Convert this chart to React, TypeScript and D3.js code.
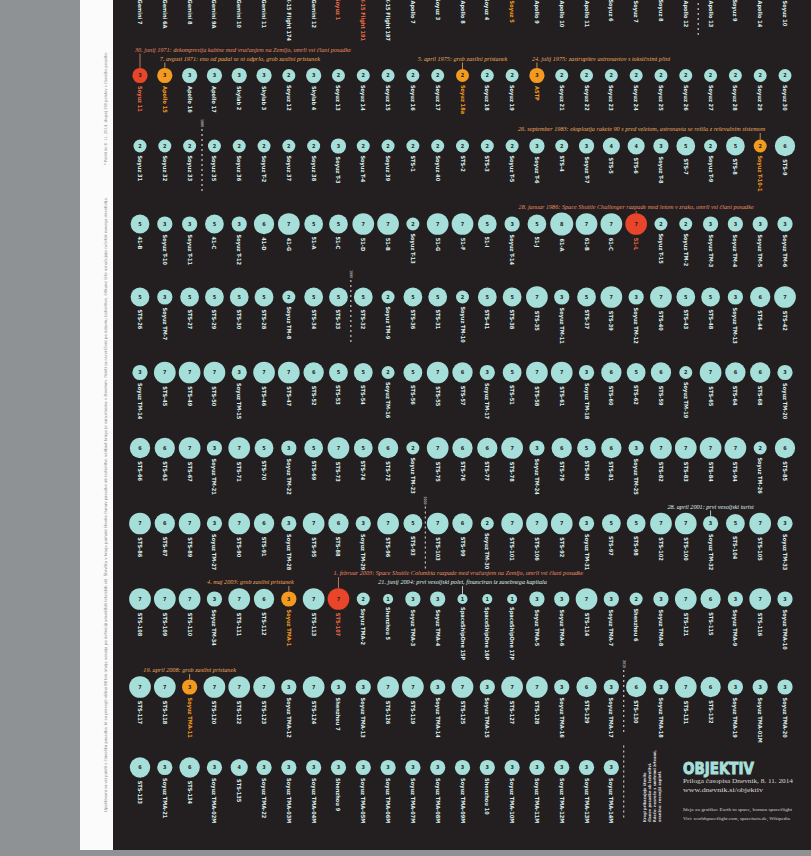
import React from "react";
import * as d3 from "d3";

const W = 811;
const H = 856;
const PER_ROW = 27;

// every crewed flight, in launch order (the top row is cut by the frame)
const flightNames = [
  "Gemini 7", "Gemini 6A", "Gemini 8", "Gemini 9A", "Gemini 10", "Gemini 11", "X-15 Flight 174", "Gemini 12", "Soyuz 1",
  "X-15 Flight 191", "X-15 Flight 197", "Apollo 7", "Soyuz 3", "Apollo 8", "Soyuz 4", "Soyuz 5", "Apollo 9", "Apollo 10",
  "Apollo 11", "Soyuz 6", "Soyuz 7", "Soyuz 8", "Apollo 12", "Apollo 13", "Soyuz 9", "Apollo 14", "Soyuz 10",

  "Soyuz 11", "Apollo 15", "Apollo 16", "Apollo 17", "Skylab 2", "Skylab 3", "Soyuz 12", "Skylab 4", "Soyuz 13",
  "Soyuz 14", "Soyuz 15", "Soyuz 16", "Soyuz 17", "Soyuz 18a", "Soyuz 18", "Soyuz 19", "ASTP", "Soyuz 21",
  "Soyuz 22", "Soyuz 23", "Soyuz 24", "Soyuz 25", "Soyuz 26", "Soyuz 27", "Soyuz 28", "Soyuz 29", "Soyuz 30",

  "Soyuz 31", "Soyuz 32", "Soyuz 33", "Soyuz 35", "Soyuz 36", "Soyuz T-2", "Soyuz 37", "Soyuz 38", "Soyuz T-3",
  "Soyuz T-4", "Soyuz 39", "STS-1", "Soyuz 40", "STS-2", "STS-3", "Soyuz T-5", "Soyuz T-6", "STS-4",
  "Soyuz T-7", "STS-5", "STS-6", "Soyuz T-8", "STS-7", "Soyuz T-9", "STS-8", "Soyuz T-10-1", "STS-9",

  "41-B", "Soyuz T-10", "Soyuz T-11", "41-C", "Soyuz T-12", "41-D", "41-G", "51-A", "51-C",
  "51-D", "51-B", "Soyuz T-13", "51-G", "51-F", "51-I", "Soyuz T-14", "51-J", "61-A",
  "61-B", "61-C", "51-L", "Soyuz T-15", "Soyuz TM-2", "Soyuz TM-3", "Soyuz TM-4", "Soyuz TM-5", "Soyuz TM-6",

  "STS-26", "Soyuz TM-7", "STS-27", "STS-29", "STS-30", "STS-28", "Soyuz TM-8", "STS-34", "STS-33",
  "STS-32", "Soyuz TM-9", "STS-36", "STS-31", "Soyuz TM-10", "STS-41", "STS-38", "STS-35", "Soyuz TM-11",
  "STS-37", "STS-39", "Soyuz TM-12", "STS-40", "STS-43", "STS-48", "Soyuz TM-13", "STS-44", "STS-42",

  "Soyuz TM-14", "STS-45", "STS-49", "STS-50", "Soyuz TM-15", "STS-46", "STS-47", "STS-52", "STS-53",
  "STS-54", "Soyuz TM-16", "STS-56", "STS-55", "STS-57", "Soyuz TM-17", "STS-51", "STS-58", "STS-61",
  "Soyuz TM-18", "STS-60", "STS-62", "STS-59", "Soyuz TM-19", "STS-65", "STS-64", "STS-68", "Soyuz TM-20",

  "STS-66", "STS-63", "STS-67", "Soyuz TM-21", "STS-71", "STS-70", "Soyuz TM-22", "STS-69", "STS-73",
  "STS-74", "STS-72", "Soyuz TM-23", "STS-75", "STS-76", "STS-77", "STS-78", "Soyuz TM-24", "STS-79",
  "STS-80", "STS-81", "Soyuz TM-25", "STS-82", "STS-83", "STS-84", "STS-94", "Soyuz TM-26", "STS-85",

  "STS-86", "STS-87", "STS-89", "Soyuz TM-27", "STS-90", "STS-91", "Soyuz TM-28", "STS-95", "STS-88",
  "Soyuz TM-29", "STS-96", "STS-93", "STS-103", "STS-99", "Soyuz TM-30", "STS-101", "STS-106", "STS-92",
  "Soyuz TM-31", "STS-97", "STS-98", "STS-102", "STS-100", "Soyuz TM-32", "STS-104", "STS-105", "Soyuz TM-33",

  "STS-108", "STS-109", "STS-110", "Soyuz TM-34", "STS-111", "STS-112", "Soyuz TMA-1", "STS-113", "STS-107",
  "Soyuz TMA-2", "Shenzhou 5", "Soyuz TMA-3", "Soyuz TMA-4", "SpaceShipOne 15P", "SpaceShipOne 16P", "SpaceShipOne 17P", "Soyuz TMA-5", "Soyuz TMA-6",
  "STS-114", "Soyuz TMA-7", "Shenzhou 6", "Soyuz TMA-8", "STS-121", "STS-115", "Soyuz TMA-9", "STS-116", "Soyuz TMA-10",

  "STS-117", "STS-118", "Soyuz TMA-11", "STS-120", "STS-122", "STS-123", "Soyuz TMA-12", "STS-124", "Shenzhou 7",
  "Soyuz TMA-13", "STS-126", "STS-119", "Soyuz TMA-14", "STS-125", "Soyuz TMA-15", "STS-127", "STS-128", "Soyuz TMA-16",
  "STS-129", "Soyuz TMA-17", "STS-130", "Soyuz TMA-18", "STS-131", "STS-132", "Soyuz TMA-19", "Soyuz TMA-01M", "Soyuz TMA-20",

  "STS-133", "Soyuz TMA-21", "STS-134", "Soyuz TMA-02M", "STS-135", "Soyuz TMA-22", "Soyuz TMA-03M", "Soyuz TMA-04M", "Shenzhou 9",
  "Soyuz TMA-05M", "Soyuz TMA-06M", "Soyuz TMA-07M", "Soyuz TMA-08M", "Soyuz TMA-09M", "Shenzhou 10", "Soyuz TMA-10M", "Soyuz TMA-11M", "Soyuz TMA-12M",
  "Soyuz TMA-13M", "Soyuz TMA-14M",
];

// crew at launch, same order
const crewSizes = [
  2, 2, 2, 2, 2, 2, 1, 2, 1, 1, 1, 3, 1, 3, 1, 3, 3, 3, 3, 2, 3, 2, 3, 3, 2, 3, 3,
  3, 3, 3, 3, 3, 3, 2, 3, 2, 2, 2, 2, 2, 2, 2, 2, 3, 2, 2, 2, 2, 2, 2, 2, 2, 2, 2,
  2, 2, 2, 2, 2, 2, 2, 2, 3, 2, 2, 2, 2, 2, 2, 2, 3, 2, 3, 4, 4, 3, 5, 2, 5, 2, 6,
  5, 3, 3, 5, 3, 6, 7, 5, 5, 7, 7, 2, 7, 7, 5, 3, 5, 8, 7, 7, 7, 2, 2, 3, 3, 3, 3,
  5, 3, 5, 5, 5, 5, 2, 5, 5, 5, 2, 5, 5, 2, 5, 5, 7, 3, 5, 7, 3, 7, 5, 5, 3, 6, 7,
  3, 7, 7, 7, 3, 7, 7, 6, 5, 5, 2, 5, 7, 6, 3, 5, 7, 7, 3, 6, 5, 6, 2, 7, 6, 6, 3,
  6, 6, 7, 3, 7, 5, 3, 5, 7, 5, 6, 2, 7, 6, 6, 7, 3, 6, 5, 6, 3, 7, 7, 7, 7, 2, 6,
  7, 6, 7, 3, 7, 6, 3, 7, 6, 3, 7, 5, 7, 6, 2, 7, 7, 7, 3, 5, 5, 7, 7, 3, 5, 7, 3,
  7, 7, 7, 3, 7, 6, 3, 7, 7, 2, 1, 3, 3, 1, 1, 1, 3, 3, 7, 3, 2, 3, 7, 6, 3, 7, 3,
  7, 7, 3, 7, 7, 7, 3, 7, 3, 3, 7, 7, 3, 7, 3, 7, 7, 3, 6, 3, 6, 3, 7, 6, 3, 3, 3,
  6, 3, 6, 3, 4, 3, 3, 3, 3, 3, 3, 3, 3, 3, 3, 3, 3, 3, 3, 3,
];

const fatalFlights = ["Soyuz 1", "X-15 Flight 191", "Soyuz 11", "51-L", "STS-107"];
const incidentFlights = ["Soyuz 5", "Apollo 15", "Soyuz 18a", "ASTP", "Soyuz T-10-1", "Soyuz TMA-1", "Soyuz TMA-11"];

const yearBreaks = [
  { before: "Apollo 13", year: "1970" },
  { before: "Soyuz 35", year: "1980" },
  { before: "STS-32", year: "1990" },
  { before: "STS-103", year: "2000" },
  { before: "STS-130", year: "2010" },
];

const annotations = [
  { flight: "Soyuz 11", level: 1, anchor: "start", text: "30. junij 1971: dekompresija kabine med vračanjem na Zemljo, umrli vsi člani posadke" },
  { flight: "Apollo 15", level: 0, anchor: "start", text: "7. avgust 1971: eno od padal se ni odprlo, grob zasilni pristanek" },
  { flight: "Soyuz 18a", level: 0, anchor: "middle", text: "5. april 1975: grob zasilni pristanek" },
  { flight: "ASTP", level: 0, anchor: "start", text: "24. julij 1975: zastrupitev astronavtov s toksičnimi plini" },
  { flight: "Soyuz T-10-1", level: 0, anchor: "end", text: "26. september 1983: eksplozija rakete 90 s pred vzletom, astronavta se rešila z reševalnim sistemom" },
  { flight: "51-L", level: 0, anchor: "middle", text: "28. januar 1986: Space Shuttle Challenger razpade med letom v zraku, umrli vsi člani posadke" },
  { flight: "Soyuz TM-32", level: 0, anchor: "middle", text: "28. april 2001: prvi vesoljski turist" },
  { flight: "Soyuz TMA-1", level: 0, anchor: "end", text: "4. maj 2003: grob zasilni pristanek" },
  { flight: "STS-107", level: 1, anchor: "start", text: "1. februar 2003: Space Shuttle Columbia razpade med vračanjem na Zemljo, umrli vsi člani posadke" },
  { flight: "SpaceShipOne 15P", level: 0, anchor: "middle", text: "21. junij 2004: prvi vesoljski polet, financiran iz zasebnega kapitala" },
  { flight: "Soyuz TMA-11", level: 0, anchor: "middle", text: "19. april 2008: grob zasilni pristanek" },
];

const legendLines = [
  "Krogi prikazujejo število",
  "članov posadke ob izstrelitvi.",
  "Rdeče: nesreče s smrtnimi žrtvami,",
  "oranžno: resnejši zapleti.",
];

const marginNotes = [
  "* Poleti do 8. 11. 2014, skupaj 290 poletov s človeško posadko",
  "Upoštevani so vsi poleti s človeško posadko, ki so presegli višino 80 km (meja vesolja po definiciji ameriških letalskih sil). Številka v krogu pomeni število članov posadke ob izstrelitvi, velikost kroga je sorazmerna s številom. Poleti so razvrščeni po datumu izstrelitve, črtkane črte označujejo začetek novega desetletja.",
];

const C = {
  page: "#8f9295",
  strip: "#fbfbfb",
  poster: "#231f20",
  circle: "#a6dfd9",
  fatal: "#e9452b",
  incident: "#f39a1f",
  label: "#dcefed",
  fatalNote: "#e98a63",
  incidentNote: "#eea85a",
};

const LABEL_FONT = "'DejaVu Sans Condensed', 'DejaVu Sans', sans-serif";
const NOTE_FONT = "'Liberation Serif', 'DejaVu Serif', serif";

export default function App() {
  const flights = flightNames.map((name, i) => ({
    name,
    crew: crewSizes[i],
    row: Math.floor(i / PER_ROW),
    col: i % PER_ROW,
    kind: fatalFlights.includes(name) ? "fatal" : incidentFlights.includes(name) ? "incident" : "normal",
  }));
  const rows = d3.groups(flights, (d) => d.row).map((g) => g[1]);

  const x = d3.scalePoint<number>().domain(d3.range(PER_ROW)).range([140, 785]);
  const r = d3.scaleSqrt().domain([0, 8]).range([1.5, 11.5]);

  // row spacing grows with the longest label of the row above
  const rowY: number[] = [];
  rows.forEach((row, i) => {
    if (i === 0) rowY.push(-10);
    else rowY.push(rowY[i - 1] + 48 + 2.5 * (d3.max(rows[i - 1], (d) => d.name.length) || 0));
  });

  const byName = new Map(flights.map((d) => [d.name, d]));
  const fillOf = (k: string) => (k === "fatal" ? C.fatal : k === "incident" ? C.incident : C.circle);
  const labelOf = (k: string) => (k === "fatal" ? "#ee6a45" : k === "incident" ? C.incident : C.label);
  const noteOf = (k: string) => (k === "fatal" ? C.fatalNote : k === "incident" ? C.incidentNote : C.label);

  const step = x.step();
  const last = flights[flights.length - 1];

  return (
    <div style={{ position: "absolute", left: 0, top: 0 }}>
      <svg width={W} height={H} style={{ display: "block" }}>
        <rect width={W} height={H} fill={C.page} />
        <rect x={80} y={0} width={33} height={850} fill={C.strip} />
        <rect x={113} y={0} width={W - 113} height={850} fill={C.poster} />

        {/* margin notes */}
        <text transform="translate(107,165) rotate(-90)" fontSize={4} fill="#8a8a8a" fontFamily={LABEL_FONT}>
          {marginNotes[0]}
        </text>
        <text transform="translate(107,812) rotate(-90)" fontSize={4} fill="#8a8a8a" fontFamily={LABEL_FONT} textLength={615} lengthAdjust="spacingAndGlyphs">
          {marginNotes[1]}
        </text>

        {/* decade separators */}
        {yearBreaks.map((b) => {
          const f = byName.get(b.before)!;
          const xd = x(f.col)! - step / 2;
          const cy = rowY[f.row];
          return (
            <g key={b.year}>
              <line x1={xd} x2={xd} y1={cy - 17} y2={cy + 47} stroke="#e8e8e8" strokeWidth={1} strokeDasharray="2,3" />
              <text transform={`translate(${xd},${cy - 19}) rotate(90)`} textAnchor="end" dy="0.35em" fontSize={3.5} fill="#e8e8e8" fontFamily={LABEL_FONT}>
                {b.year}
              </text>
            </g>
          );
        })}
        <line
          x1={x(last.col)! + step / 2}
          x2={x(last.col)! + step / 2}
          y1={rowY[last.row] - 22}
          y2={rowY[last.row] + 53}
          stroke="#e8e8e8"
          strokeWidth={1}
          strokeDasharray="2,3"
        />

        {/* annotations */}
        {annotations.map((a) => {
          const f = byName.get(a.flight)!;
          const cx = x(f.col)!;
          const cy = rowY[f.row];
          const by = cy - 15 - a.level * 9;
          const tx = a.anchor === "start" ? cx - 5 : a.anchor === "end" ? cx + 5 : cx;
          const col = noteOf(f.kind);
          return (
            <g key={a.flight}>
              <line x1={cx} x2={cx} y1={by + 2} y2={cy - r(f.crew)} stroke={col} strokeWidth={0.8} />
              <text x={tx} y={by} textAnchor={a.anchor as any} fontSize={6.2} fontStyle="italic" fill={col} fontFamily={NOTE_FONT}>
                {a.text}
              </text>
            </g>
          );
        })}

        {/* flights */}
        {flights.map((f) => {
          const cx = x(f.col)!;
          const cy = rowY[f.row];
          const rr = r(f.crew);
          return (
            <g key={f.name}>
              <circle cx={cx} cy={cy} r={rr} fill={fillOf(f.kind)} />
              <text x={cx} y={cy} dy="0.35em" textAnchor="middle" fontSize={5.5} fontWeight="bold" fill={C.poster} fontFamily={LABEL_FONT}>
                {f.crew}
              </text>
              <text
                transform={`translate(${cx},${cy + rr + 3}) rotate(90)`}
                dy="0.35em"
                fontSize={5.6}
                fontWeight={600}
                fill={labelOf(f.kind)}
                fontFamily={LABEL_FONT}
              >
                {f.name}
              </text>
            </g>
          );
        })}

        {/* legend block */}
        {legendLines.map((t, i) => (
          <text key={t} transform={`translate(${646 + i * 5},822) rotate(-90)`} fontSize={4} fontWeight="bold" fill="#d8d8d8" fontFamily={LABEL_FONT}>
            {t}
          </text>
        ))}

        {/* masthead */}
        <text
          x={683}
          y={774}
          fontSize={15}
          fontWeight={900}
          fill={C.circle}
          stroke={C.circle}
          strokeWidth={0.9}
          fontFamily="'DejaVu Sans', sans-serif"
          textLength={71}
          lengthAdjust="spacingAndGlyphs"
        >
          OBJEKTIV
        </text>
        <text x={683} y={783} fontSize={7} fill="#d9d9d9" fontFamily={NOTE_FONT} textLength={110} lengthAdjust="spacingAndGlyphs">
          Priloga časopisa Dnevnik, 8. 11. 2014
        </text>
        <text x={683} y={792} fontSize={7} fill="#d9d9d9" fontFamily={NOTE_FONT} textLength={80} lengthAdjust="spacingAndGlyphs">
          www.dnevnik.si/objektiv
        </text>
        <text x={683} y={811} fontSize={4.5} fill="#cfcfcf" fontFamily={NOTE_FONT} textLength={109} lengthAdjust="spacingAndGlyphs">
          Ideja za grafiko: Earth to space, human spaceflight
        </text>
        <text x={683} y={820} fontSize={4.5} fill="#cfcfcf" fontFamily={NOTE_FONT} textLength={107} lengthAdjust="spacingAndGlyphs">
          Viri: worldspaceflight.com, spacefacts.de, Wikipedia
        </text>
      </svg>
    </div>
  );
}
